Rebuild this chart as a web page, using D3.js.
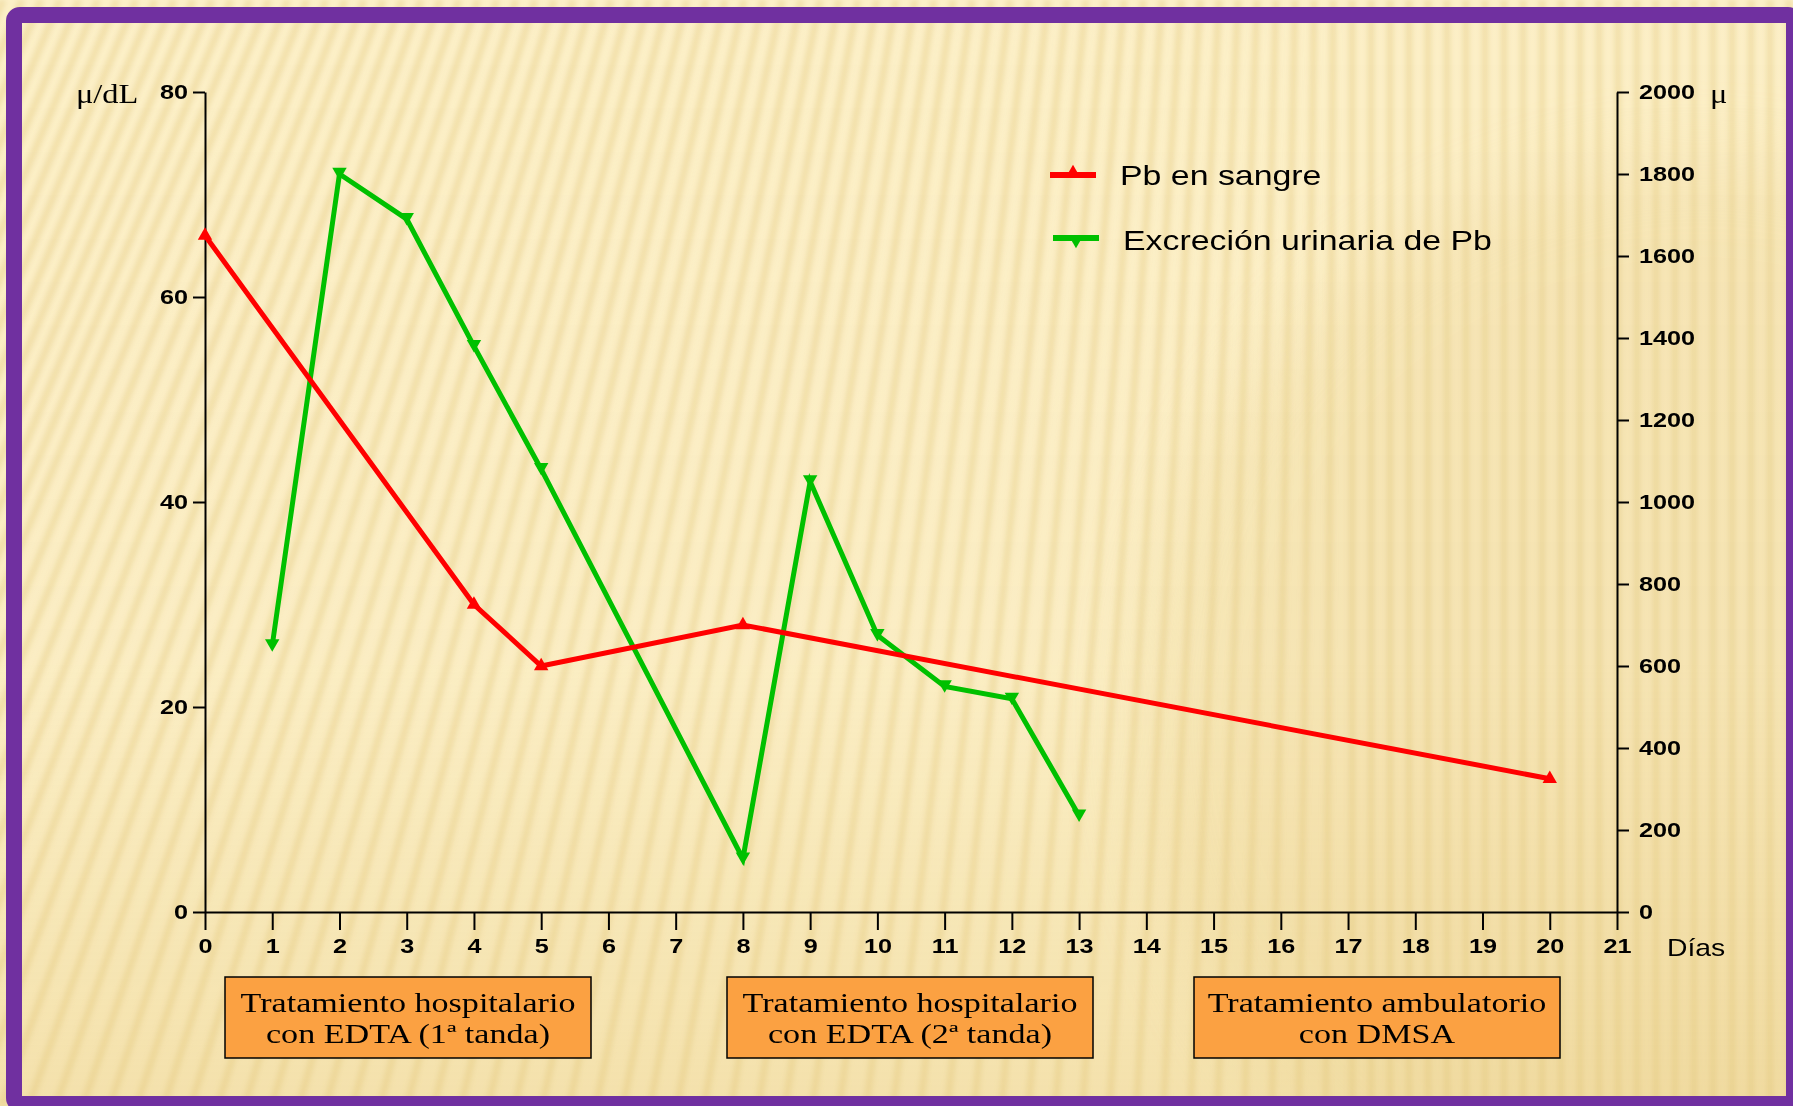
<!DOCTYPE html>
<html>
<head>
<meta charset="utf-8">
<script src="https://cdn.jsdelivr.net/npm/d3@7"></script>
<style>
  html, body { margin: 0; padding: 0; background: #fcefc6; }
  svg { display: block; }
</style>
</head>
<body>
<svg id="chart" width="1793" height="1106"></svg>
<script>
// Days on the horizontal axis
const dayTicks = d3.range(0, 22);

// Blood lead (µg/dL, left axis)
const bloodDays = [0, 4, 5, 8, 20];
const bloodPb = [66, 30, 24, 28, 13];

// Urinary lead excretion (µg, right axis)
const urineDays = [1, 2, 3, 4, 5, 8, 9, 10, 11, 12, 13];
const urinePb = [650, 1800, 1690, 1380, 1080, 130, 1050, 675, 550, 520, 235];

// Axis ticks
const leftTicks = [0, 20, 40, 60, 80];
const rightTicks = [0, 200, 400, 600, 800, 1000, 1200, 1400, 1600, 1800, 2000];

// Series names
const seriesNames = ["Pb en sangre", "Excreción urinaria de Pb"];

// Treatment phases shown under the axis
const phaseLines = [
  ["Tratamiento hospitalario", "con EDTA (1ª tanda)"],
  ["Tratamiento hospitalario", "con EDTA (2ª tanda)"],
  ["Tratamiento ambulatorio", "con DMSA"]
];

const W = 1793, H = 1106;
const svg = d3.select("#chart");
const defs = svg.append("defs");

// ---------- background ----------
const blur = defs.append("filter").attr("id", "soft").attr("x", "-20%").attr("y", "-20%")
  .attr("width", "140%").attr("height", "140%");
blur.append("feGaussianBlur").attr("stdDeviation", 2.5);

const bigBlur = defs.append("filter").attr("id", "haze").attr("x", "-50%").attr("y", "-50%")
  .attr("width", "200%").attr("height", "200%");
bigBlur.append("feGaussianBlur").attr("stdDeviation", 40);

const vgrad = defs.append("linearGradient").attr("id", "vshade")
  .attr("x1", 0).attr("y1", 0).attr("x2", 0).attr("y2", 1);
vgrad.append("stop").attr("offset", "0%").attr("stop-color", "#e8c97a").attr("stop-opacity", 0);
vgrad.append("stop").attr("offset", "60%").attr("stop-color", "#e8c97a").attr("stop-opacity", 0.06);
vgrad.append("stop").attr("offset", "100%").attr("stop-color", "#e2c270").attr("stop-opacity", 0.32);

svg.append("rect").attr("width", W).attr("height", H).attr("fill", "#fcf0c8");

// soft darker disc in the upper right
svg.append("circle").attr("cx", 1700).attr("cy", 720).attr("r", 560)
  .attr("fill", "#ecd596").attr("opacity", 0.3).attr("filter", "url(#haze)");

// fanned stripes: slanted on the left, upright on the right
const stripeTops = d3.range(-700, 1900, 19);
const tilt = t => t < 250 ? 0.42 : (t > 1350 ? 0.0 : 0.42 * (1350 - t) / 1100);
svg.append("g").attr("filter", "url(#soft)")
  .selectAll("line").data(stripeTops).join("line")
  .attr("x1", t => t).attr("y1", 0)
  .attr("x2", t => t - tilt(t) * H).attr("y2", H)
  .attr("stroke", "#e3c880").attr("stroke-width", 7).attr("opacity", 0.4);

svg.append("rect").attr("width", W).attr("height", H).attr("fill", "url(#vshade)");

// purple frame
svg.append("rect").attr("x", 14).attr("y", 15).attr("width", 1780).attr("height", 1089)
  .attr("rx", 6).attr("fill", "none").attr("stroke", "#7030a0").attr("stroke-width", 16);

// ---------- scales ----------
const x0 = 205, x1 = 1617, yTop = 92, yBot = 912;
const x = d3.scaleLinear().domain([0, 21]).range([x0, x1]);
const yL = d3.scaleLinear().domain([0, 80]).range([yBot, yTop]);
const yR = d3.scaleLinear().domain([0, 2000]).range([yBot, yTop]);

const sansBold = "'Liberation Sans', Arial, Helvetica, sans-serif";
const serif = "'Liberation Serif', 'Times New Roman', Times, serif";
const sx = 1.2; // horizontal stretch of the lettering

function styleAxis(g) {
  g.select(".domain").attr("stroke", "#000").attr("stroke-width", 2);
  g.selectAll(".tick line").attr("stroke", "#000").attr("stroke-width", 2);
  g.selectAll(".tick text")
    .attr("fill", "#000")
    .style("font-family", sansBold)
    .style("font-weight", "bold")
    .style("font-size", "21px");
}

// x axis
const gx = svg.append("g").attr("transform", `translate(0,${yBot})`)
  .call(d3.axisBottom(x).tickValues(dayTicks).tickFormat(d3.format("d"))
    .tickSize(18).tickSizeOuter(0).tickPadding(8));
styleAxis(gx);
gx.selectAll(".tick text").attr("transform", `scale(${sx},1)`);

// left axis
const gl = svg.append("g").attr("transform", `translate(${x0},0)`)
  .call(d3.axisLeft(yL).tickValues(leftTicks).tickFormat(d3.format("d"))
    .tickSize(12).tickSizeOuter(0));
styleAxis(gl);
gl.selectAll(".tick text").attr("x", -17 / sx).attr("transform", `scale(${sx},1)`);

// right axis
const gr = svg.append("g").attr("transform", `translate(${x1},0)`)
  .call(d3.axisRight(yR).tickValues(rightTicks).tickFormat(d3.format("d"))
    .tickSize(12).tickSizeOuter(0));
styleAxis(gr);
gr.selectAll(".tick text").attr("x", 22 / sx).attr("transform", `scale(${sx},1)`);

// axis units
svg.append("text").attr("transform", `translate(76,103) scale(${sx},1)`)
  .style("font-family", serif).style("font-size", "27px").attr("fill", "#000").text("μ/dL");
svg.append("text").attr("transform", `translate(1710,103) scale(${sx},1)`)
  .style("font-family", serif).style("font-size", "27px").attr("fill", "#000").text("μ");
svg.append("text").attr("transform", `translate(1667,956) scale(1.18,1)`)
  .style("font-family", sansBold).style("font-size", "24px").attr("fill", "#000").text("Días");

// ---------- series ----------
const red = "#ff0000", green = "#00c000";
const blood = bloodDays.map((d, i) => ({ day: d, v: bloodPb[i] }));
const urine = urineDays.map((d, i) => ({ day: d, v: urinePb[i] }));

const lineL = d3.line().x(d => x(d.day)).y(d => yL(d.v));
const lineR = d3.line().x(d => x(d.day)).y(d => yR(d.v));

svg.append("path").datum(urine).attr("d", lineR)
  .attr("fill", "none").attr("stroke", green).attr("stroke-width", 5).attr("stroke-linejoin", "miter");
svg.append("path").datum(blood).attr("d", lineL)
  .attr("fill", "none").attr("stroke", red).attr("stroke-width", 5).attr("stroke-linejoin", "miter");

const tri = d3.symbol().type(d3.symbolTriangle).size(90);
svg.append("g").selectAll("path").data(urine).join("path")
  .attr("d", tri).attr("fill", green)
  .attr("transform", d => `translate(${x(d.day)},${yR(d.v) - 2}) rotate(180)`);
svg.append("g").selectAll("path").data(blood).join("path")
  .attr("d", tri).attr("fill", red)
  .attr("transform", d => `translate(${x(d.day)},${yL(d.v)})`);

// ---------- legend ----------
const legendRows = [
  { name: seriesNames[0], color: red, lx: 1050, ly: 175, tx: 1120, ty: 185, rot: 0 },
  { name: seriesNames[1], color: green, lx: 1053, ly: 238, tx: 1123, ty: 250, rot: 180 }
];
const lg = svg.append("g").selectAll("g").data(legendRows).join("g");
lg.append("line")
  .attr("x1", d => d.lx).attr("x2", d => d.lx + 46)
  .attr("y1", d => d.ly).attr("y2", d => d.ly)
  .attr("stroke", d => d.color).attr("stroke-width", 6);
lg.append("path").attr("d", tri).attr("fill", d => d.color)
  .attr("transform", d => `translate(${d.lx + 23},${d.ly + (d.rot ? 2 : -2)}) rotate(${d.rot})`);
lg.append("text")
  .attr("transform", d => `translate(${d.tx},${d.ty}) scale(1.21,1)`)
  .style("font-family", sansBold).style("font-size", "28px").attr("fill", "#000")
  .text(d => d.name);

// ---------- treatment boxes ----------
const boxLeft = [225, 727, 1194], boxW = 366, boxTop = 977, boxH = 81;
const pg = svg.append("g").selectAll("g").data(phaseLines).join("g")
  .attr("transform", (d, i) => `translate(${boxLeft[i]},${boxTop})`);
pg.append("rect").attr("width", boxW).attr("height", boxH)
  .attr("fill", "#fba142").attr("stroke", "#000").attr("stroke-width", 1.5);
pg.each(function (lines) {
  const g = d3.select(this);
  lines.forEach((t, j) => {
    g.append("text")
      .attr("transform", `translate(${boxW / 2},${35 + j * 31}) scale(1.24,1)`)
      .attr("text-anchor", "middle")
      .style("font-family", serif).style("font-size", "27.5px").attr("fill", "#000")
      .text(t);
  });
});
</script>
</body>
</html>
